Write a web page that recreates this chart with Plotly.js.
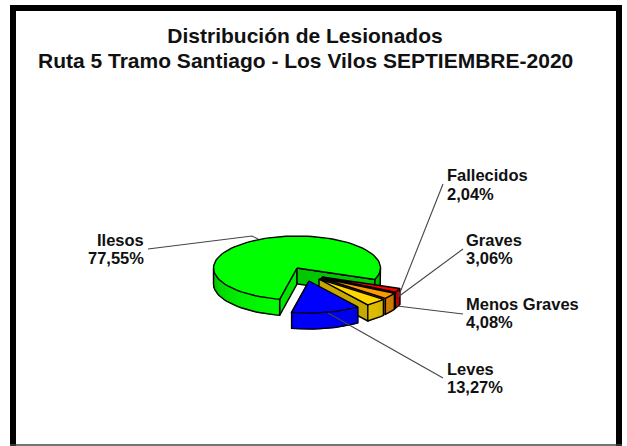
<!DOCTYPE html>
<html><head><meta charset="utf-8">
<script src="https://cdn.plot.ly/plotly-3.0.1.min.js"></script>
<style>html,body{margin:0;padding:0;background:#fff}#c{width:627px;height:446px}</style>
</head><body><div id="c"></div>
<script>
var categories = ['Ilesos','Fallecidos','Graves','Menos Graves','Leves'];
var percents = [77.55,2.04,3.06,4.08,13.27];
var titleLines = ['Distribución de Lesionados','Ruta 5 Tramo Santiago - Los Vilos SEPTIEMBRE-2020'];

// presentation of the fake-3D pie
var colors = [[0,255,0],[255,0,0],[255,153,0],[255,215,0],[0,0,255]];
var firstAngle = 192;            // degrees clockwise from 12 o'clock where Ilesos starts
var rx = 83.5, ry = 32, depth = 16;
var apex = [[297,268],[322,277],[321,278],[319,279],[309,281]];
var labelAt = [[144,239.5,257.5,'right'],[447,175,194,'left'],[466,239.5,257.5,'left'],[466,304,322,'left'],[447,369,387,'left']];
var leaders = [
  [[148,249],[252,236],[258,239]],
  [[443,184],[399,295]],
  [[463,249],[398,297]],
  [[463,314],[397,306]],
  [[443,378],[328,313]]
];
var FONT='Liberation Sans, Arial, sans-serif';

var traces = [];
function pt(c,a){var r=a*Math.PI/180;return [c[0]+rx*Math.sin(r),c[1]-ry*Math.cos(r)];}
function rgb(c,f){return 'rgb('+c.map(function(v){return Math.round(v*f)}).join(',')+')';}
function poly(pts,fill,line,w){
  traces.push({type:'scatter',mode:'lines',x:pts.map(function(p){return p[0]}),y:pts.map(function(p){return p[1]}),
    fill:fill?'toself':'none',fillcolor:fill||undefined,line:{color:line||fill,width:w==null?1:w},hoverinfo:'skip',showlegend:false});
}
function arc(c,a,b){var o=[],n=Math.max(2,Math.ceil(Math.abs(b-a)/3));for(var i=0;i<=n;i++)o.push(pt(c,a+(b-a)*i/n));return o;}
function down(p){return [p[0],p[1]+depth];}
function shade(a){var d=Math.abs(((a%360)+360)%360-190);return 0.68+0.3*Math.max(0,Math.cos(d*Math.PI/180));}
function sideArc(i,c,a,b){
  [[90,270],[450,630]].forEach(function(r){
    var s=Math.max(a,r[0]),e=Math.min(b,r[1]);
    if(e<=s)return;
    var step=6;
    for(var t=s;t<e;t+=step){
      var u=Math.min(t+step,e),top=arc(c,t,u);
      poly(top.concat(top.slice().reverse().map(down)).concat([top[0]]),rgb(colors[i],shade((t+u)/2)));
    }
    var top2=arc(c,s,e);
    poly([top2[0]].concat(top2.map(down)).concat([top2[top2.length-1]]),null,'#000',1.4);
  });
}
var start=firstAngle;
percents.forEach(function(p,i){
  var c=apex[i],a=start,b=start+p*3.6;start=b;
  var p1=pt(c,a),p2=pt(c,b);
  if(i===0) poly([c,p1,down(p1),down(c),c],rgb(colors[0],0.9),'#000',1.4);
  poly([c,p2,down(p2),down(c),c],rgb(colors[i],0.78),'#000',1.4);
  sideArc(i,c,a,b);
  poly([c].concat(arc(c,a,b)).concat([c]),rgb(colors[i],1),'#000',1.4);
});
leaders.forEach(function(l){poly(l,null,'#444',1.1);});

var annotations=[];
function note(x,y,anchor,text,size){
  annotations.push({x:x,y:y,xref:'x',yref:'y',xanchor:anchor,yanchor:'middle',showarrow:false,borderpad:0,borderwidth:0,
    text:'<b>'+text+'</b>',font:{family:FONT,size:size,color:'#111'}});
}
categories.forEach(function(n,i){
  var l=labelAt[i];
  note(l[0],l[1],l[3],n,16.5);
  note(l[0],l[2],l[3],percents[i].toFixed(2).replace('.',',')+'%',16.5);
});
note(305,60,'center',titleLines[1],21);

Plotly.newPlot('c',traces,{
  width:627,height:446,margin:{l:0,r:0,t:0,b:0},paper_bgcolor:'#fff',plot_bgcolor:'#fff',showlegend:false,hovermode:false,
  title:{text:'<b>'+titleLines[0]+'</b>',x:305/627,xanchor:'center',y:1-36/446,yanchor:'middle',
    font:{family:FONT,size:21,color:'#111'}},
  xaxis:{range:[0,627],visible:false,fixedrange:true},
  yaxis:{range:[446,0],visible:false,fixedrange:true},
  annotations:annotations,
  shapes:[
    {type:'rect',xref:'x',yref:'y',x0:13,y0:8,x1:619,y1:470,line:{color:'#000',width:6},fillcolor:'#fff',layer:'below'},
    {type:'line',xref:'x',yref:'y',x0:10,y0:445,x1:622,y1:445,line:{color:'#444',width:1.5},layer:'below'}
  ]
},{displayModeBar:false,staticPlot:true});
</script></body></html>
